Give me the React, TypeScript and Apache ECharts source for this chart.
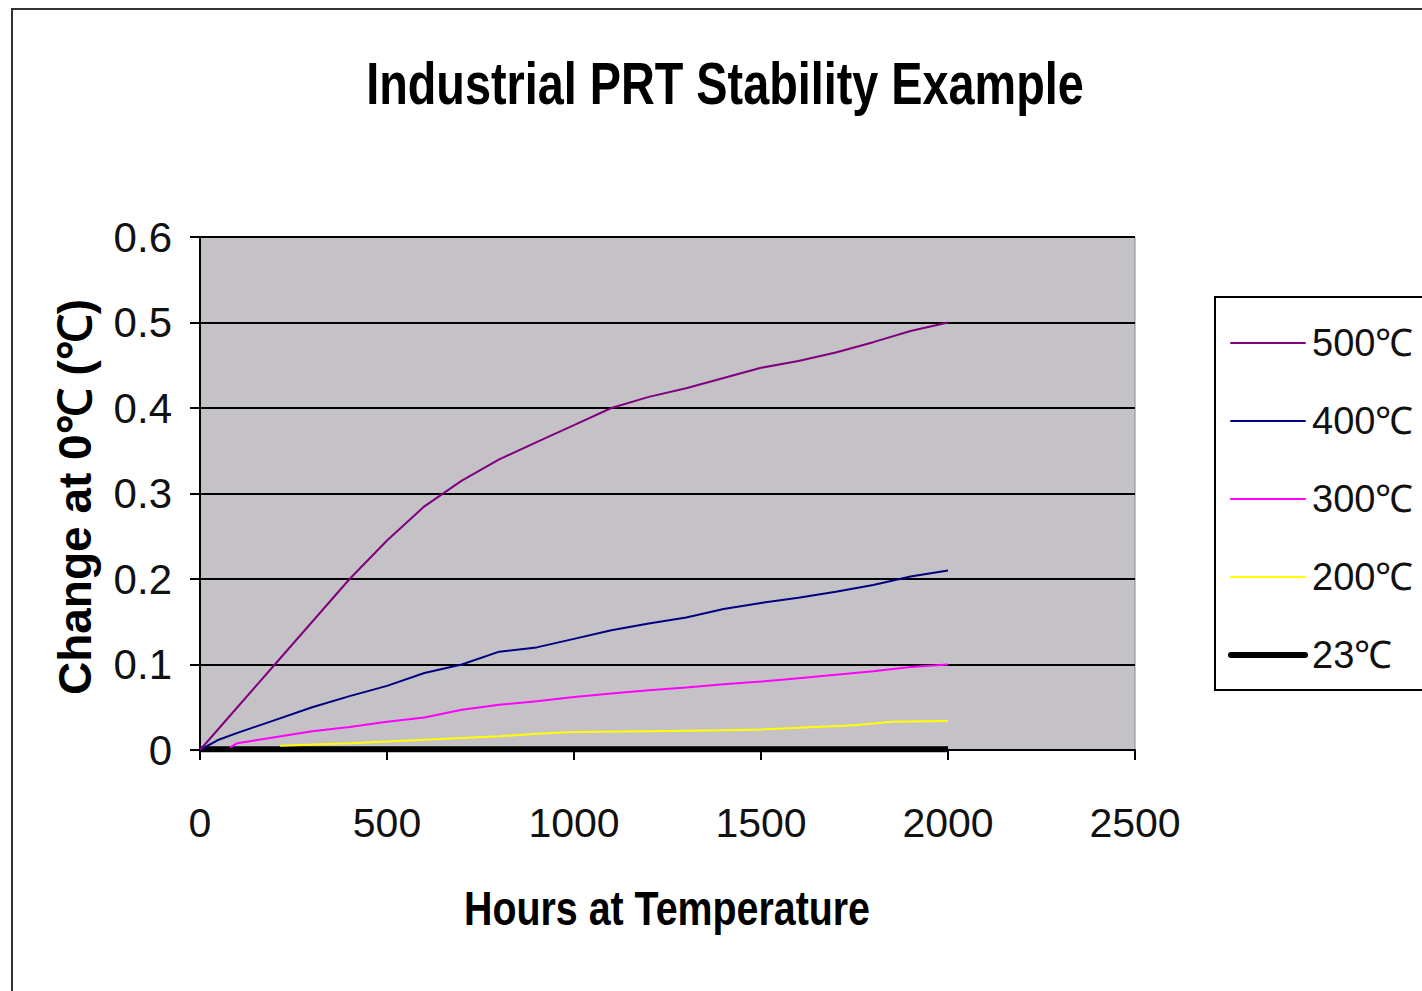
import React, { useEffect, useRef } from "react";
import * as echarts from "echarts";

const seriesNames = ["500℃", "400℃", "300℃", "200℃", "23℃"];
const seriesColors = ["#800080", "#000080", "#FF00FF", "#FFFF00", "#000000"];

const hours500 = [0, 100, 200, 300, 400, 500, 600, 700, 800, 900, 1000, 1100, 1200, 1300, 1400, 1500, 1600, 1700, 1800, 1900, 2000];
const values500 = [0, 0.05, 0.1, 0.15, 0.2, 0.245, 0.285, 0.315, 0.34, 0.36, 0.38, 0.4, 0.413, 0.423, 0.435, 0.447, 0.455, 0.465, 0.477, 0.49, 0.5];

const hours400 = [0, 50, 100, 200, 300, 400, 500, 600, 700, 800, 900, 1000, 1100, 1200, 1300, 1400, 1500, 1600, 1700, 1800, 1900, 2000];
const values400 = [0, 0.012, 0.02, 0.035, 0.05, 0.063, 0.075, 0.09, 0.1, 0.115, 0.12, 0.13, 0.14, 0.148, 0.155, 0.165, 0.172, 0.178, 0.185, 0.193, 0.203, 0.21];

const hours300 = [80, 100, 200, 300, 400, 500, 600, 700, 800, 900, 1000, 1100, 1200, 1300, 1400, 1500, 1600, 1700, 1800, 1900, 2000];
const values300 = [0.003, 0.008, 0.015, 0.022, 0.027, 0.033, 0.038, 0.047, 0.053, 0.057, 0.062, 0.066, 0.07, 0.073, 0.077, 0.08, 0.084, 0.088, 0.092, 0.097, 0.1];

const hours200 = [214, 400, 500, 600, 700, 800, 900, 1000, 1200, 1400, 1500, 1600, 1750, 1850, 2000];
const values200 = [0.005, 0.008, 0.01, 0.012, 0.014, 0.016, 0.019, 0.021, 0.022, 0.023, 0.024, 0.026, 0.029, 0.033, 0.034];

const hours23 = [0, 500, 1000, 1500, 2000];
const values23 = [0.001, 0.001, 0.001, 0.001, 0.001];

const xTicks = { min: 0, max: 2500, interval: 500 };
const yTicks = { min: 0, max: 0.6, interval: 0.1 };

const titleText = "Industrial PRT Stability Example";
const xName = "Hours at Temperature";
const yName = "Change at 0℃ (℃)";

const FONT = "'Liberation Sans', Arial, sans-serif";

function zip(xs: number[], ys: number[]) {
  return xs.map((x, i) => [x, ys[i]]);
}

export default function App() {
  const ref = useRef<HTMLDivElement>(null);
  useEffect(() => {
    if (!ref.current) return;
    const chart = echarts.init(ref.current, undefined, { renderer: "svg" });
    const allData = [
      zip(hours500, values500),
      zip(hours400, values400),
      zip(hours300, values300),
      zip(hours200, values200),
      zip(hours23, values23),
    ];
    const lineWidths = seriesNames.map((_, i) => (i === 4 ? 6 : 2));
    chart.setOption({
      animation: false,
      backgroundColor: "#ffffff",
      graphic: [
        {
          type: "rect",
          shape: { x: 12, y: 9, width: 1440, height: 1010 },
          style: { fill: "none", stroke: "#333333", lineWidth: 2 },
          z: -1,
        },
        {
          type: "text",
          x: 725,
          y: 83,
          scaleX: 0.78,
          style: {
            text: titleText,
            font: `bold 60px ${FONT}`,
            fill: "#000000",
            textAlign: "center",
            textVerticalAlign: "middle",
          },
        },
        {
          type: "text",
          x: 667,
          y: 908,
          scaleX: 0.82,
          style: {
            text: xName,
            font: `bold 48px ${FONT}`,
            fill: "#000000",
            textAlign: "center",
            textVerticalAlign: "middle",
          },
        },
        {
          type: "text",
          x: 75,
          y: 497,
          rotation: Math.PI / 2,
          style: {
            text: yName,
            font: `bold 46px ${FONT}`,
            fill: "#000000",
            textAlign: "center",
            textVerticalAlign: "middle",
          },
        },
      ],
      grid: {
        left: 200,
        top: 237,
        width: 935,
        height: 513,
        show: true,
        backgroundColor: "#c4c2c6",
        borderColor: "#8a8a8a",
        borderWidth: 1,
      },
      legend: {
        orient: "vertical",
        left: 1215,
        top: 297,
        padding: [27, 12, 16, 13],
        itemGap: 40,
        itemWidth: 74,
        itemHeight: 14,
        backgroundColor: "#ffffff",
        borderColor: "#000000",
        borderWidth: 2,
        itemStyle: { opacity: 0 },
        textStyle: { fontSize: 38, fontFamily: FONT, color: "#111111", padding: [0, 0, 0, 2] },
        data: seriesNames.map((name, i) => ({
          name,
          lineStyle: { width: lineWidths[i], color: seriesColors[i], cap: "round" },
        })),
      },
      xAxis: {
        type: "value",
        min: xTicks.min,
        max: xTicks.max,
        interval: xTicks.interval,
        axisLine: { lineStyle: { color: "#000", width: 2 } },
        axisTick: { show: true, length: 10, lineStyle: { color: "#000", width: 2 } },
        axisLabel: {
          fontSize: 41,
          fontFamily: FONT,
          color: "#111",
          margin: 52,
          formatter: (v: number) => String(v),
        },
        splitLine: { show: false },
      },
      yAxis: {
        type: "value",
        min: yTicks.min,
        max: yTicks.max,
        interval: yTicks.interval,
        axisLine: { show: true, lineStyle: { color: "#000", width: 2 } },
        axisTick: { show: true, length: 10, lineStyle: { color: "#000", width: 2 } },
        axisLabel: {
          fontSize: 42,
          fontFamily: FONT,
          color: "#111",
          margin: 28,
          formatter: (v: number) => String(Math.round(v * 10) / 10),
        },
        splitLine: { show: true, lineStyle: { color: "#000", width: 2 } },
      },
      series: seriesNames.map((name, i) => ({
        name,
        type: "line",
        data: allData[i],
        symbol: "none",
        color: seriesColors[i],
        lineStyle: { color: seriesColors[i], width: lineWidths[i] },
        z: 5 - i,
      })),
    });
    return () => chart.dispose();
  }, []);
  return (
    <div
      ref={ref}
      style={{ position: "fixed", left: 0, top: 0, width: 1422, height: 991 }}
    />
  );
}
